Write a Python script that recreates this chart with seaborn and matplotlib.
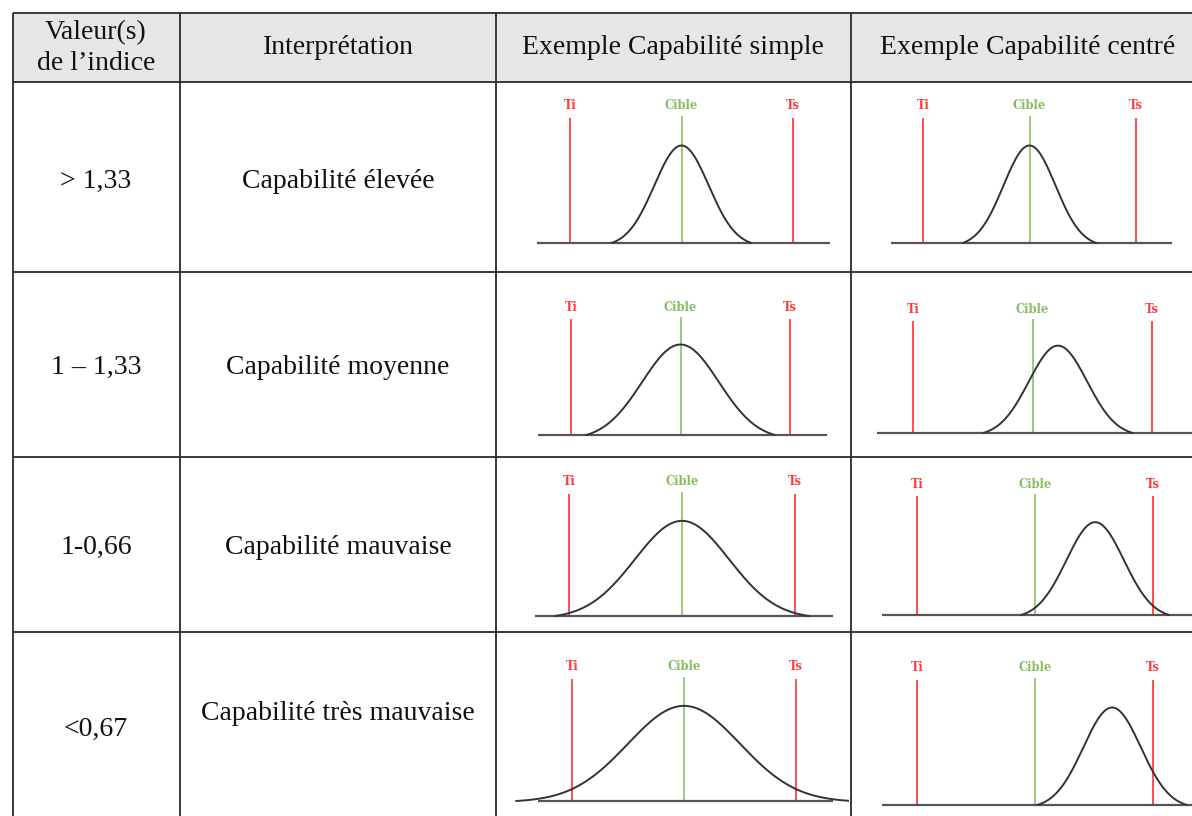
import numpy as np
import pandas as pd
import seaborn as sns
import matplotlib.pyplot as plt

sns.set_theme(style="white")
plt.rcParams['font.family'] = ['Liberation Serif', 'DejaVu Serif']

# table text
header_labels = ["Valeur(s)\nde l’indice", "Interprétation",
                 "Exemple Capabilité simple", "Exemple Capabilité centré"]
index_values = ["> 1,33", "1 – 1,33", "1-0,66", "<0,67"]
interpretations = ["Capabilité élevée", "Capabilité moyenne",
                   "Capabilité mauvaise", "Capabilité très mauvaise"]

# tolerance limits (Ti, Ts) and target, in tolerance units
Ti, Cible, Ts = -3.0, 0.0, 3.0
# process curves: mean, sigma, drawn half-span
simple_mean = [0.0, 0.0, 0.0, 0.0]
simple_sigma = [0.73, 1.05, 1.25, 1.5]
simple_span = [1.88, 2.58, 3.37, 4.5]
centre_mean = [0.0, 0.64, 1.53, 1.96]
centre_sigma = [0.73, 0.73, 0.73, 0.73]
centre_span = [1.88, 1.88, 1.88, 1.9]
peak = 0.78

# layout (pixels)
W, H = 1192, 816
col_edges = [13, 180, 496, 851, 1205]
row_edges = [13, 82, 272, 457, 632, 830]
# pixel position of Ti / Ts lines, baseline and top of lines for each mini plot
simple_px = [(570, 793, 243, 118), (571, 790, 435, 319), (569, 795, 616, 494), (572, 796, 801, 679)]
centre_px = [(923, 1136, 243, 118), (913, 1152, 433, 321), (917, 1153, 615, 496), (917, 1153, 805, 680)]

fig = plt.figure(figsize=(W / 100, H / 100), dpi=100)
tab = fig.add_axes([0, 0, 1, 1])
tab.set_xlim(0, W)
tab.set_ylim(H, 0)
tab.axis('off')

# header band and grid
tab.fill_between([col_edges[0], col_edges[-1]], row_edges[0], row_edges[1], color='#e6e6e6', zorder=0)
tab.vlines(col_edges, row_edges[0], row_edges[-1], color='#2b2b2b', lw=1.3, zorder=1)
tab.hlines(row_edges, col_edges[0], col_edges[-1], color='#2b2b2b', lw=1.3, zorder=1)

col_centres = [96, 338, 673, 1028]
for x, lab in zip(col_centres, header_labels):
    tab.text(x, 48, lab, ha='center', va='center', fontsize=20, color='#111111', linespacing=1.3)

index_y = [181, 367, 547, 729]
interp_y = [181, 367, 547, 713]
for i in range(4):
    tab.text(col_centres[0], index_y[i], index_values[i], ha='center', va='center', fontsize=20, color='#111111')
    tab.text(col_centres[1], interp_y[i], interpretations[i], ha='center', va='center', fontsize=20, color='#111111')


def mini_plot(c, r, px, mu, sigma, span):
    ti_px, ts_px, base_y, top_y = px
    x0, x1 = col_edges[c] + 2, min(col_edges[c + 1] - 2, W)
    y0, y1 = row_edges[r] + 2, min(row_edges[r + 1] - 2, H)
    ax = fig.add_axes([x0 / W, 1 - y1 / H, (x1 - x0) / W, (y1 - y0) / H])
    s = (ts_px - ti_px) / (Ts - Ti)
    cx = (ts_px + ti_px) / 2
    u = base_y - top_y
    ax.set_xlim((x0 - cx) / s, (x1 - cx) / s)
    ax.set_ylim((base_y - y1) / u, (base_y - y0) / u)
    ax.patch.set_alpha(0)

    ax.vlines([Ti, Ts], 0, 1, color='#ff4f4f', lw=1.4, zorder=2)
    ax.vlines(Cible, 0, 1.02, color='#93c56f', lw=1.3, zorder=2)
    ax.plot([-3.9, 4.0], [0, 0], color='#555555', lw=1.6, zorder=2, solid_capstyle='butt')

    # bell curve brought down to the baseline at both ends
    xs = np.linspace(mu - span, mu + span, 300)
    g = np.exp(-(xs - mu) ** 2 / (2 * sigma ** 2))
    g_end = np.exp(-span ** 2 / (2 * sigma ** 2))
    df = pd.DataFrame({'x': xs, 'y': peak * (g - g_end) / (1 - g_end)})
    sns.lineplot(data=df, x='x', y='y', ax=ax, color='#333333', lw=1.4, zorder=3)
    ax.axis('off')

    lab_kw = dict(ha='center', va='center', fontsize=8.3, fontweight='bold', family='DejaVu Serif')
    ax.text(Ti, 1.1, 'Ti', color='#ff3b3b', **lab_kw)
    ax.text(Ts, 1.1, 'Ts', color='#ff3b3b', **lab_kw)
    ax.text(Cible, 1.1, 'Cible', color='#86bd5e', **lab_kw)


for i in range(4):
    mini_plot(2, i + 1, simple_px[i], simple_mean[i], simple_sigma[i], simple_span[i])
    mini_plot(3, i + 1, centre_px[i], centre_mean[i], centre_sigma[i], centre_span[i])

fig.savefig('out.png', dpi=100)
